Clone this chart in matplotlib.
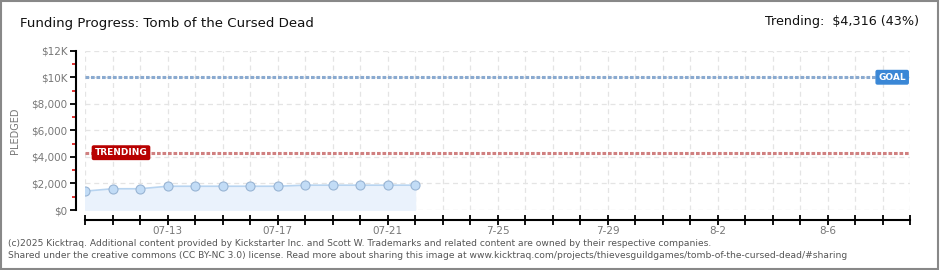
import matplotlib
matplotlib.use("Agg")
import matplotlib.pyplot as plt
from matplotlib.patches import Rectangle

# Data
days = list(range(13))  # 07-10 .. 07-22
pledged = [1420, 1600, 1600, 1790, 1790, 1790, 1790, 1790, 1870, 1870, 1870, 1870, 1870]
goal = 10000
trending = 4316
n_days = 31  # 07-10 .. 08-09
y_ticks = [0, 2000, 4000, 6000, 8000, 10000, 12000]
y_labels = ["$0", "$2,000", "$4,000", "$6,000", "$8,000", "$10K", "$12K"]
x_label_pos = [3, 7, 11, 15, 19, 23, 27]
x_labels = ["07-13", "07-17", "07-21", "7-25", "7-29", "8-2", "8-6"]

fig = plt.figure(figsize=(9.4, 2.7), dpi=100)
fig.patch.set_facecolor("white")
fig.patches.append(Rectangle((0.001, 0.002), 0.997, 0.995, transform=fig.transFigure,
                             fill=False, edgecolor="#888888", linewidth=1.5))

ax = fig.add_axes([85/940, 1-210/270, 825/940, (210-50.7)/270])
ax.set_xlim(0, n_days - 1)
ax.set_ylim(0, 12000)

# grid
for d in range(n_days):
    ax.axvline(d, color="#e4e4e4", lw=0.9, ls=(0, (4, 3)), zorder=0)
for yv in y_ticks:
    ax.axhline(yv, color="#e4e4e4", lw=0.9, ls=(0, (4, 3)), zorder=0)

# goal and trending lines
ax.axhline(goal, color="#8aaad0", lw=2.2, ls=(0, (1.2, 0.6)), zorder=2)
ax.axhline(trending, color="#d08080", lw=2.2, ls=(0, (1.2, 0.6)), zorder=2)

# series
ax.fill_between(days, pledged, 0, color="#eaf2fc", zorder=1)
ax.plot(days, pledged, color="#b8d4f0", lw=1.2, zorder=3)
ax.plot(days, pledged, "o", ms=6.5, mfc="#c2dcf6", mec="#98b4d4", mew=0.8, zorder=4)

# labels on lines
ax.text(0.35, trending, "TRENDING", color="white", fontsize=6.5, fontweight="bold",
        va="center", ha="left", family="DejaVu Sans",
        bbox=dict(boxstyle="round,pad=0.25,rounding_size=0.15", fc="#b80000", ec="#b80000"),
        zorder=5)
ax.text(28.85, goal, "GOAL", color="white", fontsize=6.5, fontweight="bold",
        va="center", ha="left", family="DejaVu Sans",
        bbox=dict(boxstyle="round,pad=0.25,rounding_size=0.15", fc="#3a87d6", ec="#3a87d6"),
        zorder=5)

# spines
for s in ["top", "right"]:
    ax.spines[s].set_visible(False)
ax.spines["left"].set_position(("outward", 6.5))
ax.spines["bottom"].set_position(("outward", 7.2))
ax.spines["left"].set_linewidth(1.5)
ax.spines["bottom"].set_linewidth(1.5)

ax.set_yticks(y_ticks)
ax.set_yticklabels(y_labels)
ax.set_yticks([1000, 3000, 5000, 7000, 9000, 11000], minor=True)
ax.tick_params(axis="y", which="major", length=4, width=1.3, colors="black",
               labelcolor="#777777", labelsize=7.5, pad=2)
ax.tick_params(axis="y", which="minor", length=3, width=1.3, colors="#dd2222")

xt_labels = [""] * n_days
for p, l in zip(x_label_pos, x_labels):
    xt_labels[p] = l
ax.set_xticks(range(n_days))
ax.set_xticklabels(xt_labels)
ax.tick_params(axis="x", which="major", direction="inout", length=7, width=1.3,
               labelsize=7.5, labelcolor="#777777", pad=1)

ax.set_ylabel("PLEDGED", fontsize=7, color="#777777")
ax.yaxis.set_label_coords(-65/825, 0.5)

# titles
fig.text(20/940, 1-24/270, "Funding Progress: Tomb of the Cursed Dead", fontsize=9.6,
         va="center", ha="left", color="#111111")
fig.text(919/940, 1-22/270, "Trending:  $4,316 (43%)", fontsize=9.2,
         va="center", ha="right", color="#111111")

# footer
fig.text(8/940, 1-243/270,
         "(c)2025 Kicktraq. Additional content provided by Kickstarter Inc. and Scott W. Trademarks and related content are owned by their respective companies.",
         fontsize=6.6, color="#555555", va="center", ha="left")
fig.text(8/940, 1-256/270,
         "Shared under the creative commons (CC BY-NC 3.0) license. Read more about sharing this image at www.kicktraq.com/projects/thievesguildgames/tomb-of-the-cursed-dead/#sharing",
         fontsize=6.6, color="#555555", va="center", ha="left")

fig.savefig("out.png", dpi=100, facecolor="white")
